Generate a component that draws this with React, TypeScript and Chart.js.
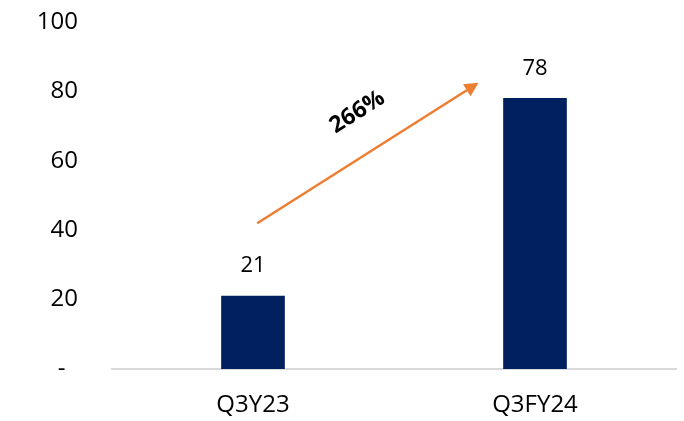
import React, { useEffect, useRef } from "react";
import { Chart, registerables } from "chart.js";

Chart.register(...registerables);

const categories = ["Q3Y23", "Q3FY24"];
const values = [21, 78];
const yTicks = [0, 20, 40, 60, 80, 100];
const growthLabel = "266%";
// arrow annotation in data terms: [categoryIndex, value]
const arrowStart = [0.015, 42];
const arrowEnd = [0.8, 82.5];
const growthLabelPos = [0.37, 74];

const FONT = "'Open Sans', sans-serif";

const annotations = {
  id: "annotations",
  afterDatasetsDraw(chart: any) {
    const ctx = chart.ctx;
    const xs = chart.scales.x;
    const ys = chart.scales.y;
    const meta = chart.getDatasetMeta(0);
    ctx.save();
    ctx.fillStyle = "#000000";
    ctx.font = `22px ${FONT}`;
    ctx.textAlign = "center";
    ctx.textBaseline = "middle";
    meta.data.forEach((bar: any, i: number) => {
      ctx.fillText(String(values[i]), bar.x, bar.y - 30);
    });
    const x1 = xs.getPixelForValue(arrowStart[0]);
    const y1 = ys.getPixelForValue(arrowStart[1]);
    const x2 = xs.getPixelForValue(arrowEnd[0]);
    const y2 = ys.getPixelForValue(arrowEnd[1]);
    const ang = Math.atan2(y2 - y1, x2 - x1);
    const headLen = 14;
    const headW = 7;
    const bx = x2 - headLen * Math.cos(ang);
    const by = y2 - headLen * Math.sin(ang);
    ctx.strokeStyle = "#ED7D31";
    ctx.fillStyle = "#ED7D31";
    ctx.lineWidth = 2.5;
    ctx.beginPath();
    ctx.moveTo(x1, y1);
    ctx.lineTo(bx, by);
    ctx.stroke();
    ctx.beginPath();
    ctx.moveTo(x2, y2);
    ctx.lineTo(bx + headW * Math.sin(ang), by - headW * Math.cos(ang));
    ctx.lineTo(bx - headW * Math.sin(ang), by + headW * Math.cos(ang));
    ctx.closePath();
    ctx.fill();
    const tx = xs.getPixelForValue(growthLabelPos[0]);
    const ty = ys.getPixelForValue(growthLabelPos[1]);
    ctx.translate(tx, ty);
    ctx.rotate(ang);
    ctx.fillStyle = "#000000";
    ctx.font = `bold 23px ${FONT}`;
    ctx.textAlign = "center";
    ctx.textBaseline = "middle";
    ctx.fillText(growthLabel, 0, 0);
    ctx.restore();
  },
};

export default function App() {
  const ref = useRef<HTMLCanvasElement>(null);
  useEffect(() => {
    document.body.style.margin = "0";
    const chart = new Chart(ref.current!, {
      type: "bar",
      data: {
        labels: categories,
        datasets: [
          {
            data: values,
            backgroundColor: "#002060",
            barThickness: 63,
          },
        ],
      },
      options: {
        animation: false,
        responsive: false,
        maintainAspectRatio: false,
        layout: { padding: { top: 0, right: 8, left: 0, bottom: 0 } },
        plugins: { legend: { display: false }, tooltip: { enabled: false } },
        scales: {
          x: {
            grid: { display: false, drawTicks: false },
            border: { display: true, color: "#D9D9D9", width: 2 },
            ticks: {
              color: "#000000",
              font: { family: FONT, size: 24 },
              padding: 22,
            },
            afterFit(scale: any) {
              scale.height = 52;
            },
          },
          y: {
            min: 0,
            max: 100,
            afterBuildTicks(scale: any) {
              scale.ticks = yTicks.map((v) => ({ value: v }));
            },
            grid: { display: false, drawTicks: false },
            border: { display: false },
            ticks: {
              color: "#000000",
              font: { family: FONT, size: 24 },
              padding: 34,
              callback: (v: any) => (v === 0 ? "-  " : String(v)),
            },
            afterFit(scale: any) {
              scale.width = 112;
              scale.paddingTop = 22;
              scale.paddingBottom = 0;
            },
          },
        },
      },
      plugins: [annotations],
    });
    return () => chart.destroy();
  }, []);
  return (
    <div style={{ width: 684, height: 421 }}>
      <canvas ref={ref} width={684} height={421} />
    </div>
  );
}
